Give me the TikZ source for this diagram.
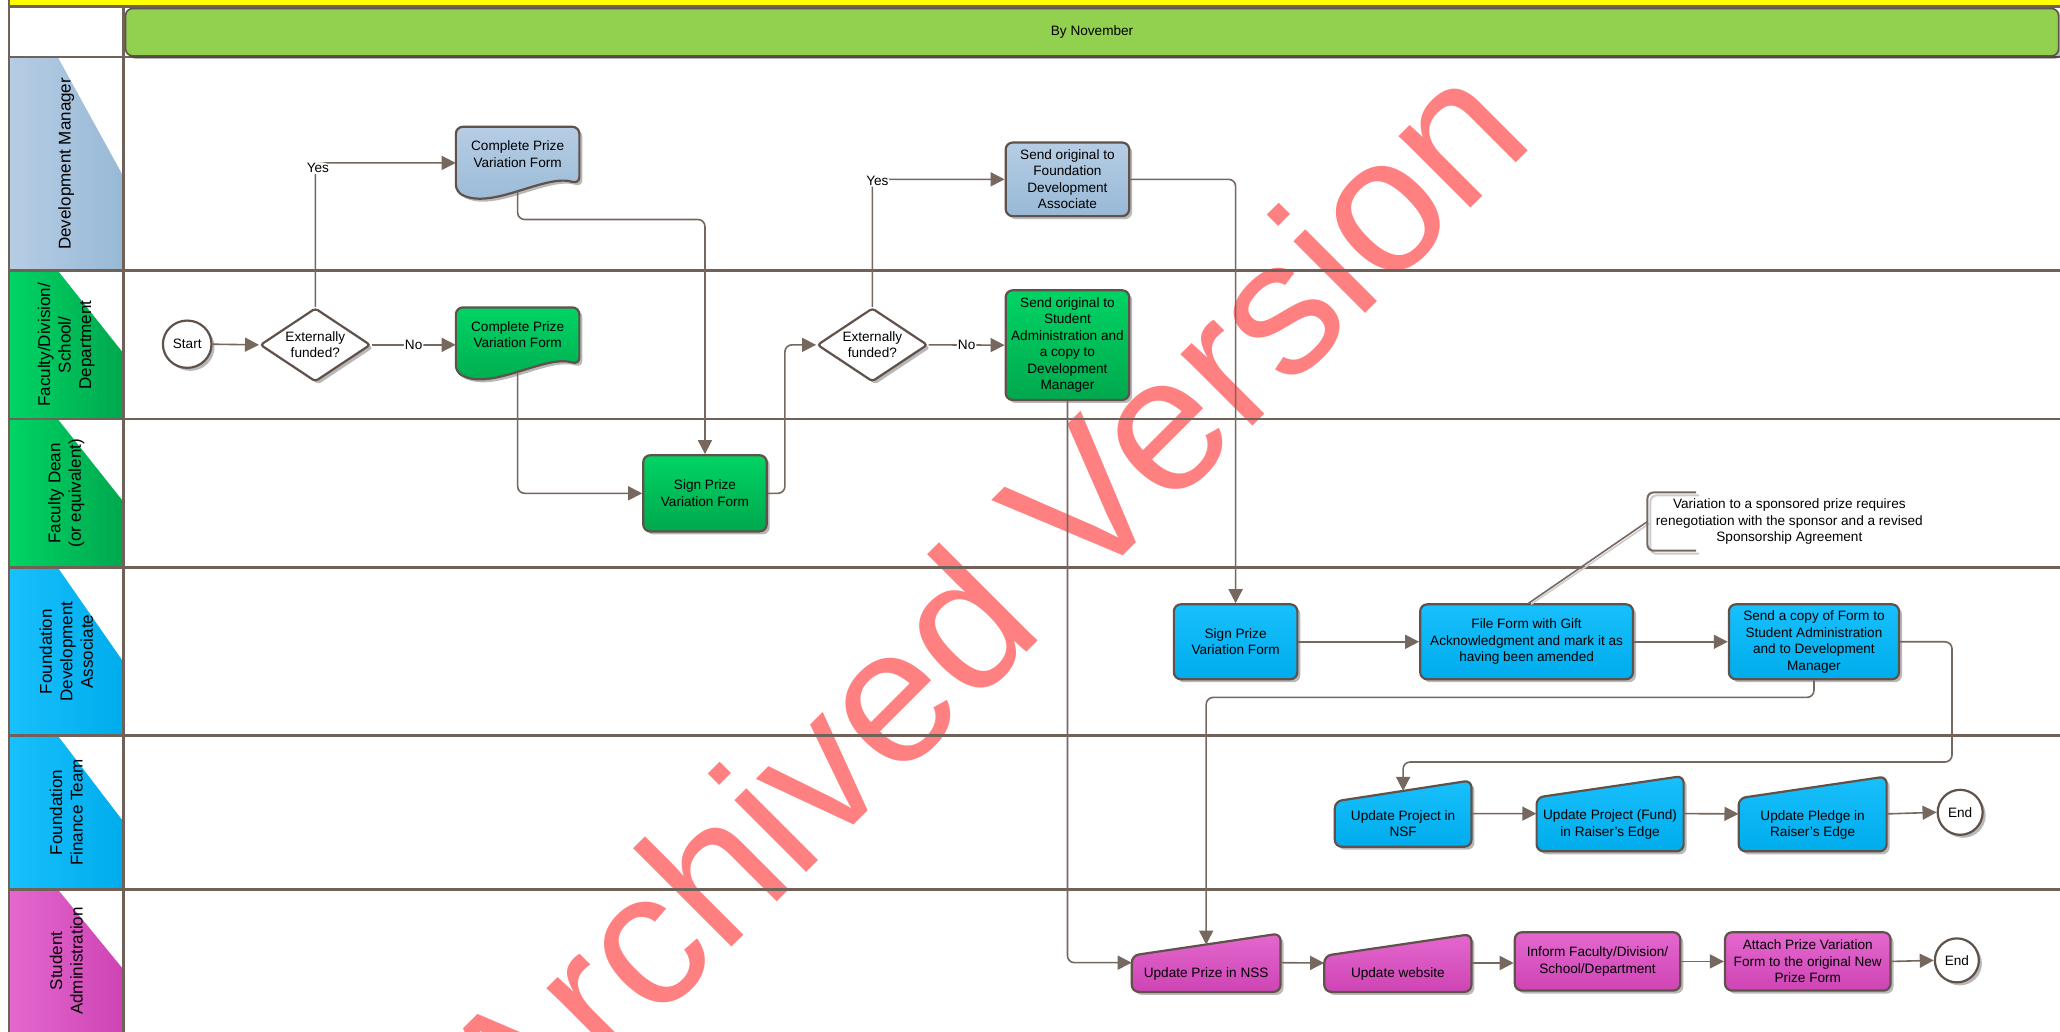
\documentclass[tikz,border=0pt]{standalone}
\usepackage{fontspec}
\setmainfont{Liberation Sans}
\usetikzlibrary{arrows.meta,shapes.geometric,shadows,calc}
\definecolor{bd}{RGB}{96,82,74}
\definecolor{cn}{RGB}{118,103,95}
\definecolor{ln}{RGB}{112,97,89}
\definecolor{blA}{RGB}{182,205,228}
\definecolor{blB}{RGB}{152,185,214}
\definecolor{gnA}{RGB}{0,212,100}
\definecolor{gnB}{RGB}{0,168,78}
\definecolor{cyA}{RGB}{24,192,252}
\definecolor{cyB}{RGB}{0,172,236}
\definecolor{mgA}{RGB}{228,104,206}
\definecolor{mgB}{RGB}{206,68,180}
\definecolor{hd}{RGB}{146,208,80}
\definecolor{yl}{RGB}{255,255,0}
\definecolor{wm}{RGB}{255,128,128}
\newcommand\bxf{\fontsize{13.6}{16.5}\selectfont}
\newcommand\lnf{\fontsize{17}{20.5}\selectfont}
\newcommand\wmf{\fontsize{192}{200}\selectfont}
\tikzset{
 lane/.style={draw=ln, line width=2.6pt},
 conn/.style={draw=cn, line width=1.6pt, rounded corners=7pt},
 arr/.style={conn, -{Triangle[length=14pt,width=14pt]}},
 shd/.style={drop shadow={shadow xshift=3pt, shadow yshift=-3pt, fill=black, opacity=0.28}},
 box/.style={draw=bd, line width=2.2pt, rounded corners=7pt, align=center, font=\bxf, inner sep=0pt, shd},
 bluebox/.style={box, top color=blA, bottom color=blB},
 greenbox/.style={box, top color=gnA, bottom color=gnB},
 cyanbox/.style={box, top color=cyA, bottom color=cyB},
 magbox/.style={box, top color=mgA, bottom color=mgB},
 shp/.style={draw=bd, line width=2.2pt, rounded corners=7pt, shd},
 hold/.style={inner sep=0pt},
 txt/.style={align=center, font=\bxf, inner sep=0pt},
 lbl/.style={fill=white, inner sep=1pt, font=\bxf},
 lanelbl/.style={rotate=90, align=center, font=\lnf, inner sep=0pt},
 term/.style={ellipse, draw=bd, line width=2.2pt, fill=white, font=\bxf, inner sep=0pt, shd},
 dec/.style={diamond, aspect=1.5, draw=bd, line width=2.2pt, fill=white, rounded corners=3pt, align=center, font=\bxf, inner sep=0pt, minimum width=110.4pt, minimum height=73.6pt, shd},
 hdrbar/.style={draw=bd, line width=1.6pt, fill=hd, rounded corners=7pt, font=\bxf, inner sep=0pt, shd},
 wmk/.style={rotate=45, anchor=base, font=\wmf, text=wm, inner sep=0pt},
 notebox/.style={align=center, font=\bxf, inner ysep=0pt, inner xsep=8.3pt, minimum height=57.8pt},
}
\begin{document}
\begin{tikzpicture}[x=1.3138pt,y=-1.3138pt]
\useasboundingbox (0,0) rectangle (1568,785.5);
\fill[white] (0,0) rectangle (1568,785.5);
\fill[yl] (7,0) rectangle (1568,5);
% lane label fills
\path[left color=blA, right color=blB] (7,43.5) -- (44,43.5) -- (94,134.5) -- (94,206) -- (7,206) -- cycle;
\path[left color=gnA, right color=gnB] (7,206) -- (44,206) -- (94,269) -- (94,319) -- (7,319) -- cycle;
\path[left color=gnA, right color=gnB] (7,319) -- (44,319) -- (94,382) -- (94,432) -- (7,432) -- cycle;
\path[left color=cyA, right color=cyB] (7,432) -- (44,432) -- (94,504) -- (94,560) -- (7,560) -- cycle;
\path[left color=cyA, right color=cyB] (7,560) -- (44,560) -- (94,625.5) -- (94,677) -- (7,677) -- cycle;
\path[left color=mgA, right color=mgB] (7,677) -- (44,677) -- (94,738) -- (94,785.5) -- (7,785.5) -- cycle;
% watermark
\node[wmk] (wmark) at (782.5,495.5) {Archived Version};
% lane lines
\draw[lane] (7,5) -- (1568,5);
\draw[lane] (7,43.5) -- (1568,43.5);
\draw[lane] (7,206) -- (1568,206);
\draw[lane] (7,319) -- (1568,319);
\draw[lane] (7,432) -- (1568,432);
\draw[lane] (7,560) -- (1568,560);
\draw[lane] (7,677) -- (1568,677);
\draw[lane] (7,0) -- (7,785.5);
\draw[lane] (94,5) -- (94,785.5);
% header
\node[hdrbar, minimum width=1933pt, minimum height=47.3pt] (hdr) at (831.25,24.5) {By November};
% lane labels
\node[lanelbl] (lab1) at (50.5,124.75) {Development Manager};
\node[lanelbl] (lab2) at (50.5,262.5) {Faculty/Division/\\School/\\Department};
\node[lanelbl] (lab3) at (50.5,375.5) {Faculty Dean\\(or equivalent)};
\node[lanelbl] (lab4) at (50.5,496) {Foundation\\Development\\Associate};
\node[lanelbl] (lab5) at (50.5,618.5) {Foundation\\Finance Team};
\node[lanelbl] (lab6) at (50.5,731.5) {Student\\Administration};
% shapes
\node[term, minimum width=48.6pt, minimum height=47.3pt] (start) at (142.5,262) {Start};
\node[dec] (d1) at (240,262.5) {Externally\\funded?};
\path[shp, top color=blA, bottom color=blB] (347,96.5) -- (441,96.5) -- (441,140) .. controls (415,132) and (375,160) .. (347,146) -- cycle;
\node[hold, minimum width=123.5pt, minimum height=72.3pt, label={[txt,yshift=9pt]center:{Complete Prize\\Variation Form}}] (doc1) at (394,124) {};
\path[shp, top color=gnA, bottom color=gnB] (347,234) -- (441,234) -- (441,277.5) .. controls (415,269.5) and (375,297.5) .. (347,283.5) -- cycle;
\node[hold, minimum width=123.5pt, minimum height=72.3pt, label={[txt,yshift=9pt]center:{Complete Prize\\Variation Form}}] (doc2) at (394,261.5) {};
\node[greenbox, minimum width=123.5pt, minimum height=76.2pt] (sign1) at (536.6,375.5) {Sign Prize\\Variation Form};
\node[dec] (d2) at (664,262.5) {Externally\\funded?};
\node[bluebox, minimum width=123.5pt, minimum height=73.6pt] (fda) at (812.5,136.5) {Send original to\\Foundation\\Development\\Associate};
\node[greenbox, minimum width=123.5pt, minimum height=109.7pt] (sa) at (812.5,262.7) {Send original to\\Student\\Administration and\\a copy to\\Development\\Manager};
\node[cyanbox, minimum width=123.5pt, minimum height=74.9pt] (sign4) at (940.5,488.5) {Sign Prize\\Variation Form};
\node[cyanbox, minimum width=212.8pt, minimum height=74.9pt] (file) at (1162,488.5) {File Form with Gift\\Acknowledgment and mark it as\\having been amended};
\node[cyanbox, minimum width=170.1pt, minimum height=74.9pt] (copy) at (1380.7,488.5) {Send a copy of Form to\\Student Administration\\and to Development\\Manager};
\node[notebox] (note) at (1362,397) {Variation to a sponsored prize requires\\renegotiation with the sponsor and a revised\\Sponsorship Agreement};
% manual inputs, lane 5
\path[shp, top color=cyA, bottom color=cyB] (1016,644.5) -- (1016,610) -- (1120,594) -- (1120,644.5) -- cycle;
\node[hold, minimum width=136.6pt, minimum height=66.3pt, label={[txt,yshift=-10.2pt]center:{Update Project in\\NSF}}] (nsf) at (1068,619.25) {};
\path[shp, top color=cyA, bottom color=cyB] (1169.6,648) -- (1169.6,607) -- (1281.5,590.6) -- (1281.5,648) -- cycle;
\node[hold, minimum width=147pt, minimum height=75.4pt, label={[txt,yshift=-10.8pt]center:{Update Project (Fund)\\in Raiser's Edge}}] (fund) at (1225.5,619.3) {};
\path[shp, top color=cyA, bottom color=cyB] (1323.4,648) -- (1323.4,607.6) -- (1436,591) -- (1436,648) -- cycle;
\node[hold, minimum width=147.9pt, minimum height=74.9pt, label={[txt,yshift=-11.2pt]center:{Update Pledge in\\Raiser's Edge}}] (pledge) at (1379.7,619.5) {};
\node[term, minimum width=45pt, minimum height=45pt] (end1) at (1492,618.3) {End};
% lane 6
\path[shp, top color=mgA, bottom color=mgB] (861.5,755) -- (861.5,727.3) -- (974.7,710.5) -- (974.7,755) -- cycle;
\node[hold, minimum width=148.7pt, minimum height=58.5pt, label={[txt,yshift=-11.5pt]center:{Update Prize in NSS}}] (nss) at (918.1,732.75) {};
\path[shp, top color=mgA, bottom color=mgB] (1008,755) -- (1008,727.5) -- (1120,711) -- (1120,755) -- cycle;
\node[hold, minimum width=147.1pt, minimum height=57.8pt, label={[txt,yshift=-11.2pt]center:{Update website}}] (web) at (1064,733) {};
\node[magbox, minimum width=165.5pt, minimum height=58.3pt] (inform) at (1216,731.8) {Inform Faculty/Division/\\School/Department};
\node[magbox, minimum width=165.5pt, minimum height=58.3pt] (attach) at (1376,731.8) {Attach Prize Variation\\Form to the original New\\Prize Form};
\node[term, minimum width=44pt, minimum height=44pt] (end2) at (1489.5,731) {End};
\coordinate (nsftop) at (1068,602);
\coordinate (nsstop) at (918.1,719);
% connectors
\draw[arr] (start.east) -- (d1.west);
\draw[arr] (d1.east) -- node[lbl, midway]{No} (d1.east -| doc2.west);
\draw[arr] (d1.north) |- node[lbl, pos=0.5, xshift=2.6pt, yshift=-5.3pt]{Yes} (doc1.west);
\draw[arr] ([yshift=8pt]doc1.south) -- ++(0,21.5) -| (sign1.north);
\draw[arr] ([yshift=8pt]doc2.south) |- (sign1.west);
\draw[arr] (sign1.east) -- ++(13,0) |- (d2.west);
\draw[arr] (d2.north) |- node[lbl, pos=0.5, xshift=5pt, yshift=-1.5pt]{Yes} (fda.west);
\draw[arr] (d2.east) -- node[lbl, midway]{No} (sa.west);
\draw[arr] (fda.east) -| (sign4.north);
\draw[arr] (sa.south) |- (nss.west);
\draw[arr] (sign4.east) -- (file.west);
\draw[arr] (file.east) -- (copy.west);
\draw[arr] (copy.east) -- ++(39.5,0) -- ++(0,91.5) -| (nsftop);
\draw[arr] (copy.south) -- ++(0,13) -| (nsstop);
\draw[arr] (nsf.east) -- (fund.west);
\draw[arr] (fund.east) -- (pledge.west);
\draw[arr] (pledge.east) -- (end1.west);
\draw[arr] (nss.east) -- (web.west);
\draw[arr] (web.east) -- (web.east -| inform.west);
\draw[arr] (inform.east) -- (attach.west);
\draw[arr] (attach.east) -- (end2.west);
% annotation
\draw[gray!40, line width=1.6pt] ([xshift=4.5pt,yshift=-1pt]file.north) -- ([xshift=2.5pt,yshift=-1.5pt]note.west);
\draw[conn] ([xshift=2pt]file.north) -- (note.west);
\draw[gray!40, line width=2pt, rounded corners=6pt] ([xshift=51.6pt,yshift=-3pt]note.north west) -- ([xshift=3pt,yshift=-3pt]note.north west) -- ([xshift=3pt,yshift=-3pt]note.south west) -- ([xshift=51.6pt,yshift=-3pt]note.south west);
\draw[cn, line width=2pt, rounded corners=6pt] ([xshift=48.6pt]note.north west) -- (note.north west) -- (note.south west) -- ([xshift=48.6pt]note.south west);
\end{tikzpicture}
\end{document}
